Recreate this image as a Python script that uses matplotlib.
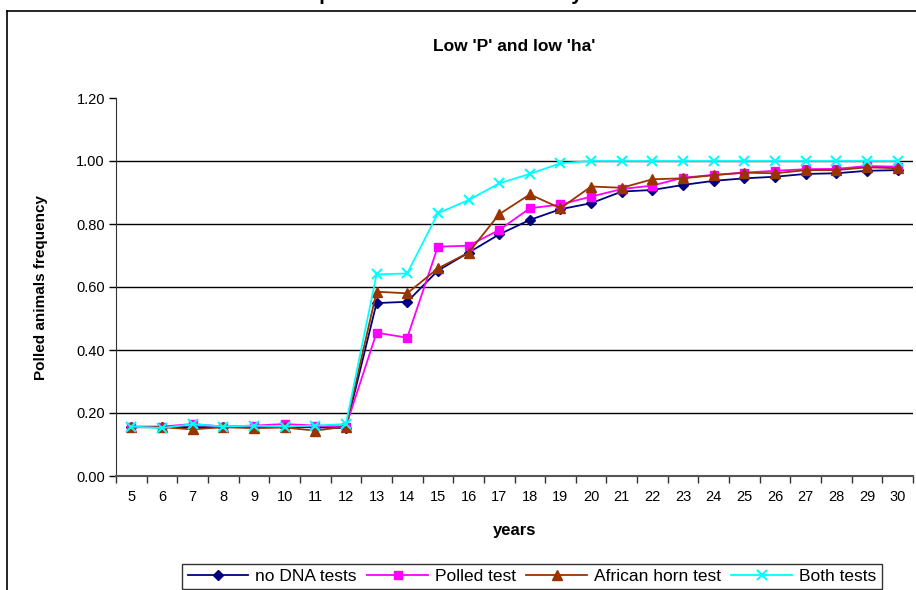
""" Polled animals frequency over the years for the four DNA test strategies (low 'P', low 'ha'). """

import numpy as np
import matplotlib
matplotlib.use("Agg")
import matplotlib.pyplot as plt
from matplotlib.lines import Line2D

plt.rcParams['font.family'] = ['Liberation Sans', 'DejaVu Sans']

years = list(range(5, 31))
no_dna_tests = [0.155, 0.155, 0.155, 0.155, 0.155, 0.155, 0.155, 0.152,
                0.549, 0.553, 0.652, 0.709, 0.767, 0.813, 0.847, 0.866,
                0.903, 0.908, 0.924, 0.937, 0.945, 0.950, 0.959, 0.961,
                0.969, 0.971]
polled_test = [0.157, 0.157, 0.165, 0.157, 0.160, 0.165, 0.160, 0.157,
               0.455, 0.439, 0.728, 0.731, 0.781, 0.850, 0.862, 0.887,
               0.911, 0.922, 0.947, 0.956, 0.963, 0.969, 0.974, 0.975,
               0.984, 0.982]
african_horn_test = [0.155, 0.155, 0.148, 0.155, 0.152, 0.154, 0.144, 0.157,
                     0.585, 0.580, 0.659, 0.709, 0.831, 0.894, 0.850, 0.919,
                     0.915, 0.942, 0.945, 0.955, 0.963, 0.961, 0.971, 0.971,
                     0.980, 0.977]
both_tests = [0.157, 0.152, 0.165, 0.157, 0.160, 0.157, 0.160, 0.165,
              0.640, 0.643, 0.834, 0.876, 0.929, 0.959, 0.993, 1.000,
              1.000, 1.000, 1.000, 1.000, 1.000, 1.000, 1.000, 1.000,
              1.000, 1.000]
y_ticks = [0.0, 0.2, 0.4, 0.6, 0.8, 1.0, 1.2]


def main():
    fig = plt.figure(figsize=(9.16, 5.90), dpi=100)
    W, H = 916.0, 590.0
    ax = fig.add_axes([116 / W, 1 - 476 / H, (913 - 116) / W, (476 - 98) / H])

    # outer chart frame, only top and left edges are visible
    fig.add_artist(Line2D([7 / W, 7 / W], [0, 1 - 11 / H], transform=fig.transFigure, color='black', lw=1.2))
    fig.add_artist(Line2D([7 / W, 1.0], [1 - 11 / H, 1 - 11 / H], transform=fig.transFigure, color='black', lw=1.2))
    # main title, cut off at the top of the picture (only descenders show)
    fig.text(195 / W, 1.0, "Evolution of polled animals in the study", fontsize=14.8, fontweight='bold',
             ha='left', va='baseline')

    x = np.arange(len(years))
    ax.plot(x, no_dna_tests, color='#000080', marker='D', ms=5, lw=1.3, label='no DNA tests')
    ax.plot(x, polled_test, color='#FF00FF', marker='s', ms=6, lw=1.3, label='Polled test')
    ax.plot(x, african_horn_test, color='#993300', marker='^', ms=7, lw=1.3, label='African horn test')
    ax.plot(x, both_tests, color='#00FFFF', marker='x', ms=7, mew=1.5, lw=1.3, label='Both tests')

    ax.set_xlim(-0.5, len(years) - 0.5)
    ax.set_ylim(0, 1.2)
    ax.set_xticks(x)
    ax.set_xticklabels([str(y) for y in years], fontsize=10.5)
    ax.set_xticks(np.arange(len(years) + 1) - 0.5, minor=True)
    ax.tick_params(axis='x', which='major', length=0, pad=10)
    ax.tick_params(axis='x', which='minor', length=5, width=1, color='#333333')
    ax.set_yticks(y_ticks)
    ax.set_yticklabels([f"{v:.2f}" for v in y_ticks], fontsize=10.5)
    ax.tick_params(axis='y', length=5, width=1, pad=3)

    for v in y_ticks[1:-1]:
        ax.axhline(v, color='black', lw=1, zorder=0)

    for side in ['top', 'right']:
        ax.spines[side].set_visible(False)
    ax.spines['left'].set_color('#333333')
    ax.spines['bottom'].set_color('#555555')
    ax.spines['bottom'].set_linewidth(1.5)

    ax.set_title("Low 'P' and low 'ha'", fontsize=12.5, fontweight='bold', pad=34)
    ax.set_xlabel("years", fontsize=12, fontweight='bold', labelpad=14)
    ax.set_ylabel("Polled animals frequency", fontsize=11, fontweight='bold', labelpad=20)

    leg = fig.legend(loc='upper center', bbox_to_anchor=(532 / W, 1 - 555 / H), ncol=4, fontsize=12.5,
                     frameon=True, fancybox=False, edgecolor='black', handlelength=3.5, columnspacing=0.6,
                     handletextpad=0.4, borderpad=0.3)
    leg.get_frame().set_linewidth(1)

    fig.savefig("out.png", dpi=100)


if __name__ == "__main__":
    main()
